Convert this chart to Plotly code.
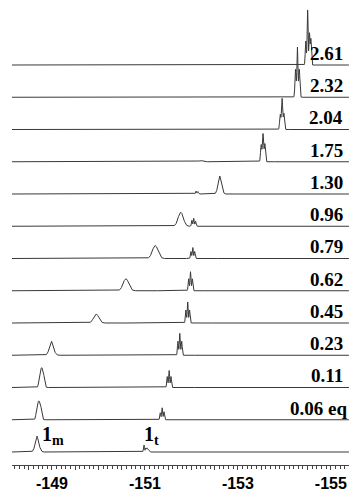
import numpy as np
import plotly.graph_objects as go

# ---- data ----
# equivalents label for each trace, bottom (pure 1) to top
eq_labels = ["", "0.06 eq", "0.11", "0.23", "0.45", "0.62", "0.79", "0.96",
             "1.30", "1.75", "2.04", "2.32", "2.61"]

# peak lists: (shift ppm, intensity, width ppm)
peaks_000 = [(-148.68, 13, 0.10), (-148.68, 3, 0.02),
             (-150.98, 7, 0.025), (-151.02, 4, 0.025), (-151.05, 4, 0.025), (-151.08, 2, 0.025)]
peaks_006 = [(-148.68, 12, 0.05), (-148.72, 15, 0.05), (-148.76, 11, 0.05),
             (-151.33, 7, 0.025), (-151.37, 12, 0.025), (-151.41, 8, 0.025)]
peaks_011 = [(-148.74, 12, 0.05), (-148.78, 16, 0.05), (-148.82, 11, 0.05),
             (-151.48, 11, 0.025), (-151.52, 17, 0.025), (-151.56, 11, 0.025)]
peaks_023 = [(-148.99, 12, 0.11), (-148.99, 2, 0.02),
             (-151.71, 14, 0.025), (-151.75, 22, 0.025), (-151.79, 14, 0.025)]
peaks_045 = [(-149.95, 9, 0.13),
             (-151.88, 13, 0.025), (-151.92, 21, 0.025), (-151.96, 13, 0.025)]
peaks_062 = [(-150.59, 12, 0.14),
             (-151.94, 12, 0.025), (-151.98, 19, 0.025), (-152.02, 12, 0.025)]
peaks_079 = [(-151.22, 13, 0.14),
             (-151.99, 7, 0.025), (-152.03, 11, 0.025), (-152.07, 7, 0.025)]
peaks_096 = [(-151.77, 14, 0.13),
             (-152.01, 6, 0.025), (-152.05, 8, 0.025), (-152.09, 5, 0.025)]
peaks_130 = [(-152.10, 3, 0.025), (-152.14, 2.5, 0.025),
             (-152.61, 16, 0.09), (-152.61, 2, 0.02)]
peaks_175 = [(-152.20, 1.2, 0.10),
             (-153.50, 17, 0.03), (-153.54, 28, 0.03), (-153.58, 18, 0.03)]
peaks_204 = [(-153.91, 15, 0.03), (-153.95, 31, 0.03), (-153.99, 16, 0.03)]
peaks_232 = [(-154.24, 28, 0.03), (-154.28, 50, 0.025), (-154.32, 28, 0.03)]
peaks_261 = [(-154.46, 24, 0.025), (-154.50, 55, 0.025), (-154.54, 32, 0.025), (-154.57, 26, 0.025)]

spectra = [peaks_000, peaks_006, peaks_011, peaks_023, peaks_045, peaks_062, peaks_079,
           peaks_096, peaks_130, peaks_175, peaks_204, peaks_232, peaks_261]

tick_labels = ["-149", "-151", "-153", "-155"]
x_start, x_end = -148.14, -155.39

# ---- build figure ----
INT_SCALE = 1 / 32.25      # intensity -> trace-spacing units
x = np.arange(x_start, x_end, -0.003)

fig = go.Figure()
for i, pk in enumerate(spectra):
    y = np.zeros_like(x)
    for c, h, w in pk:
        y += h * np.exp(-4 * np.log(2) * ((x - c) / w) ** 2)
    fig.add_trace(go.Scatter(x=x, y=i + y * INT_SCALE, mode="lines",
                             line=dict(color="#383838", width=1),
                             hoverinfo="skip", showlegend=False))

# invisible trace so that the half-ppm tick axis is drawn
fig.add_trace(go.Scatter(x=[x_start, x_end], y=[None, None], xaxis="x2", mode="lines",
                         hoverinfo="skip", showlegend=False))

for i, lab in enumerate(eq_labels):
    if not lab:
        continue
    fig.add_annotation(x=1.0 if lab.endswith("eq") else 0.988, xref="paper", xanchor="right",
                       y=i + 0.36, yref="y", yanchor="middle", showarrow=False,
                       text="<b>%s</b>" % lab,
                       font=dict(family="Liberation Serif, Times New Roman, serif", size=19, color="black"))

for txt, xv in [("1<sub>m</sub>", -148.75), ("1<sub>t</sub>", -150.93)]:
    fig.add_annotation(x=xv, xref="x", xanchor="left", y=0.5, yref="y", yanchor="middle",
                       showarrow=False, text="<b>%s</b>" % txt,
                       font=dict(family="Liberation Serif, Times New Roman, serif", size=20, color="black"))

label_vals = [float(t) for t in tick_labels]
half_vals = list(np.arange(-148.5, -155.5, -0.5))

fig.update_layout(
    width=356, height=491, margin=dict(l=12, r=7, t=0, b=26),
    plot_bgcolor="white", paper_bgcolor="white",
    xaxis=dict(range=[x_start, x_end], showgrid=False, zeroline=False, automargin=False,
               showline=True, linecolor="#444", linewidth=1,
               ticks="outside", ticklen=4, tickcolor="#444", tickwidth=1,
               tickmode="array", tickvals=label_vals, ticktext=tick_labels,
               tickfont=dict(family="Liberation Sans, Arial, sans-serif", size=16,
                             color="black", weight="bold"),
               minor=dict(dtick=0.1, tick0=-149, ticks="outside", ticklen=3,
                          tickcolor="#444", tickwidth=1, showgrid=False)),
    xaxis2=dict(range=[x_start, x_end], overlaying="x", anchor="y", side="bottom",
                showgrid=False, zeroline=False, automargin=False, showline=False,
                ticks="outside", ticklen=4, tickcolor="#444", tickwidth=1,
                tickmode="array", tickvals=half_vals, showticklabels=False),
    yaxis=dict(range=[-0.403, 14.016], visible=False),
)

fig.write_html("out.html", config={"displayModeBar": False},
               post_script="document.body.style.margin='0';document.body.style.overflow='hidden';")
